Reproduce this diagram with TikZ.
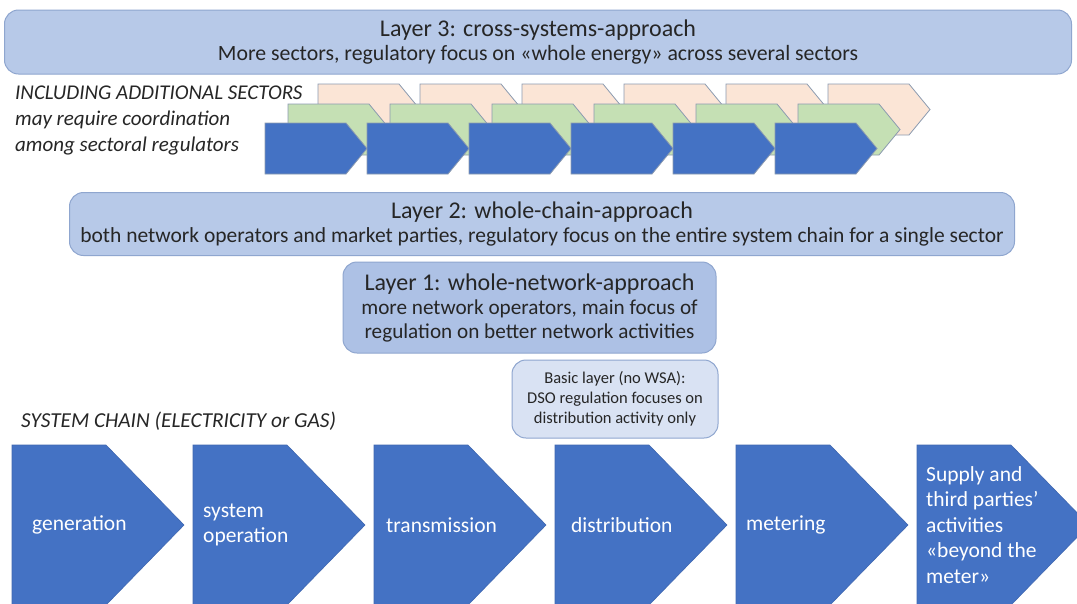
\documentclass[tikz,border=0pt]{standalone}
\usepackage{fontspec}
\setmainfont{Carlito}
\usetikzlibrary{positioning}

\definecolor{layerfill}{HTML}{B7C9E8}
\definecolor{layeronefill}{HTML}{ADC1E5}
\definecolor{basicfill}{HTML}{D9E2F3}
\definecolor{layerline}{HTML}{8FA6CF}
\definecolor{textgrey}{HTML}{262626}
\definecolor{chainblue}{HTML}{4472C4}
\definecolor{chainline}{HTML}{3F67B0}
\definecolor{sectorgreen}{HTML}{C5E0B4}
\definecolor{sectorpink}{HTML}{FBE5D6}
\definecolor{sectorline}{HTML}{8C9BB0}

\newcommand{\titlesize}{\fontsize{24}{24}\selectfont}
\newcommand{\bodysize}{\fontsize{21.8}{24}\selectfont}

\begin{document}
\begin{tikzpicture}[x=1pt, y=-1pt,
  layerbox/.style={draw=layerline, fill=layerfill, line width=1pt, rounded corners=14pt,
    align=center, text=textgrey, font=\bodysize, inner sep=0pt},
  note/.style={font=\itshape\fontsize{21}{26}\selectfont, text=textgrey, align=left, anchor=west, inner sep=0pt},
  chainlabel/.style={font=\fontsize{21.5}{25.5}\selectfont, text=white, align=left, anchor=west, inner sep=0pt},
  chainarrow/.style={fill=chainblue, draw=chainline, line width=0.6pt},
  sectorarrow/.style={draw=sectorline, line width=0.8pt}]

  \clip (0,0) rectangle (1077,603);
  \fill[white] (0,0) rectangle (1077,603);

  % layer boxes
  \node[layerbox, minimum width=1067pt, minimum height=64pt] (layer3) at (538,42)
    {\titlesize Layer 3: cross-systems-approach\\
     More sectors, regulatory focus on «whole energy» across several sectors};
  \node[layerbox, font=\fontsize{21.5}{24.5}\selectfont,
    minimum width=945pt, minimum height=63pt] (layer2) at (542,224)
    {\titlesize Layer 2: whole-chain-approach\\
     both network operators and market parties, regulatory focus on the entire system chain for a single sector};
  \node[layerbox, fill=layeronefill, font=\fontsize{21.2}{24}\selectfont,
    minimum width=373pt, minimum height=91pt] (layer1) at (529.5,307.5)
    {\titlesize Layer 1: whole-network-approach\\
     more network operators, main focus of\\
     regulation on better network activities};
  \node[layerbox, fill=basicfill, font=\fontsize{16.5}{20}\selectfont,
    minimum width=206pt, minimum height=78pt] (basic) at (615,399)
    {Basic layer (no WSA):\\
     DSO regulation focuses on\\
     distribution activity only};

  % additional sectors, back to front
  \foreach \x/\y/\col in {318/84/sectorpink, 288/104/sectorgreen, 265/123/chainblue}
    \foreach \i in {0,...,5}
      \draw[sectorarrow, fill=\col] (\x+102*\i,\y) -- ++(81,0) -- ++(21,25.5)
        -- ++(-21,25.5) -- ++(-81,0) -- cycle;

  \node[note] (sectors) at (15,120)
    {INCLUDING ADDITIONAL SECTORS\\
     may require coordination\\
     among sectoral regulators};

  % system chain
  \node[note, font=\itshape\fontsize{21.3}{24}\selectfont] (chain) at (21,421)
    {SYSTEM CHAIN (ELECTRICITY or GAS)};

  \foreach \i/\dx/\name/\txt in {0/20/gen/generation, 1/10/sysop/{system\\operation},
      2/12/trans/transmission, 3/16/dist/distribution, 4/10/meter/metering,
      5/9/supply/{Supply and\\third parties’\\activities\\«beyond the\\meter»}} {
    \draw[chainarrow] (12+181*\i,445) -- ++(94,0) -- ++(78,80) -- ++(-78,80)
      -- ++(-94,0) -- cycle;
    \node[chainlabel] (\name) at (12+181*\i+\dx,525) {\txt};
  }
\end{tikzpicture}
\end{document}
